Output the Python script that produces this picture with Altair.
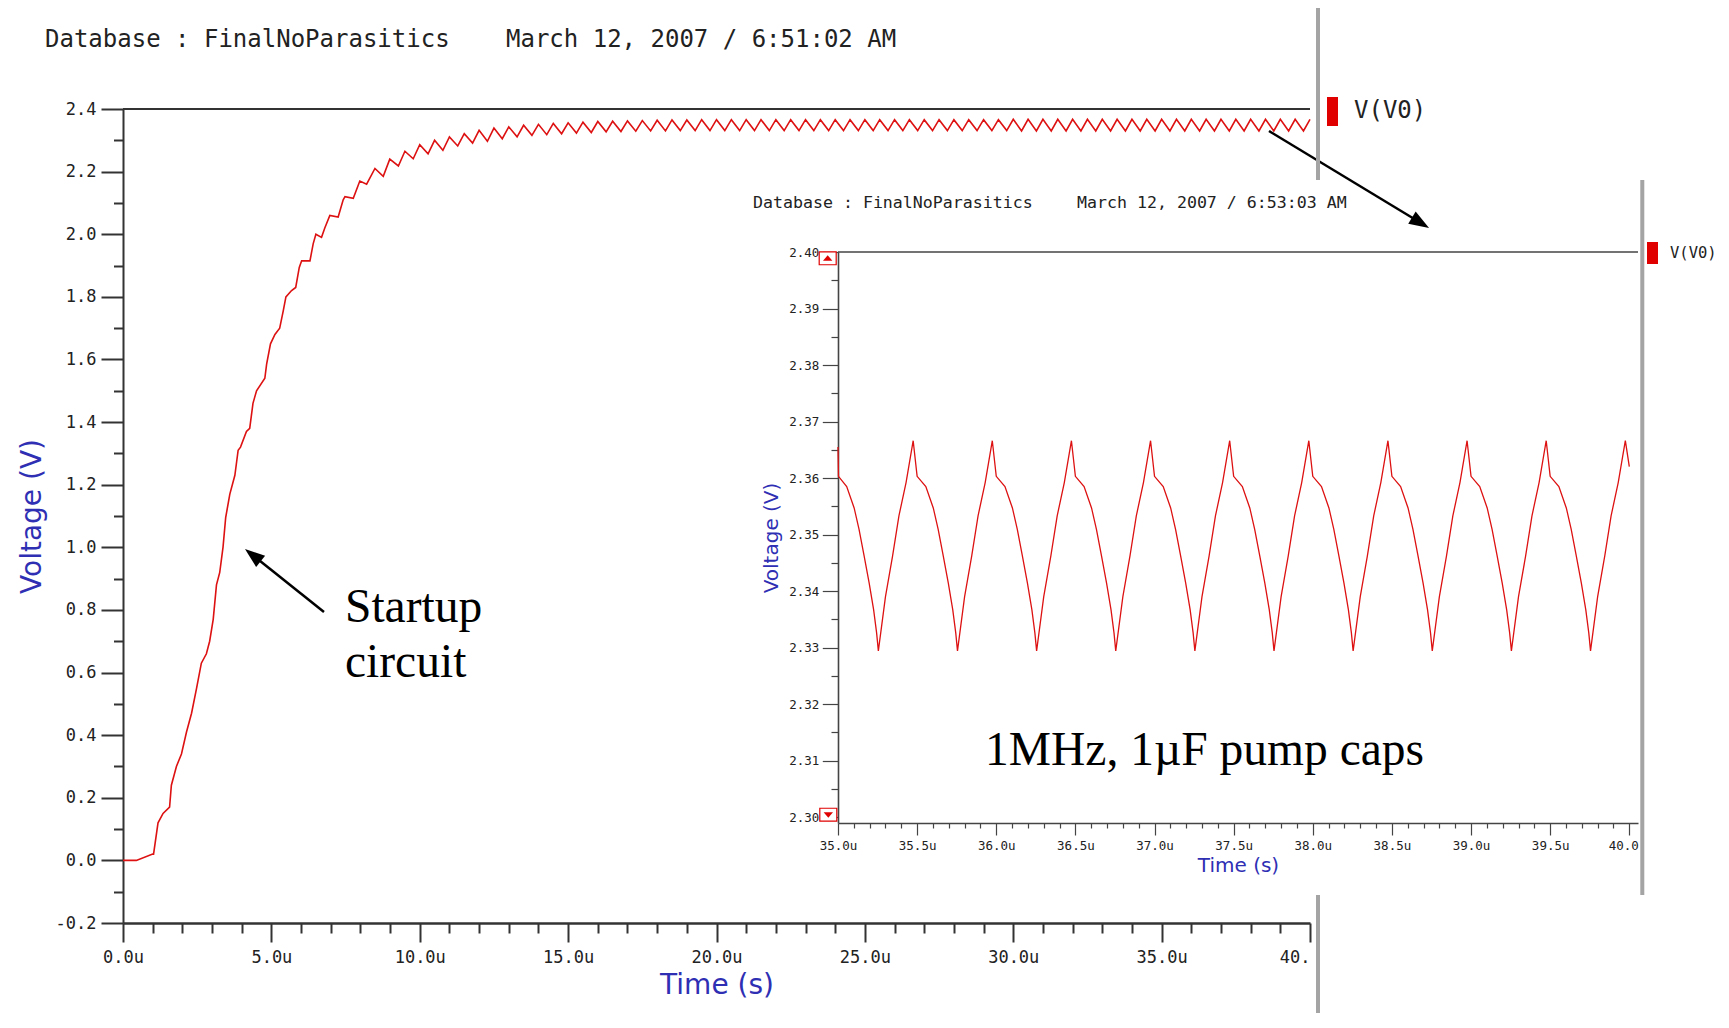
import altair as alt
import pandas as pd

# ---------------- data ----------------
# main transient V(V0), time in microseconds
main_t = [
    0.0, 0.45, 1.0, 1.03, 1.18, 1.35, 1.57, 1.63, 1.8, 1.97,
    2.14, 2.31, 2.48, 2.64, 2.81, 2.92, 3.04, 3.15, 3.26, 3.37,
    3.46, 3.6, 3.77, 3.88, 3.96, 4.16, 4.27, 4.38, 4.5, 4.78,
    4.84, 4.97, 5.12, 5.28, 5.4, 5.49, 5.68, 5.82, 5.94, 6.02,
    6.3, 6.41, 6.5, 6.69, 6.8, 6.97, 7.25, 7.42, 7.48, 7.76,
    7.98, 8.21, 8.49, 8.77, 8.99, 9.28,
    9.5, 9.78, 10.0, 10.28, 10.5, 10.78, 11.0, 11.28, 11.5, 11.78,
    12.0, 12.28, 12.5, 12.78, 13.0, 13.28, 13.5, 13.78, 14.0, 14.28,
    14.5, 14.78, 15.0, 15.28, 15.5, 15.78, 16.0, 16.28, 16.5, 16.78,
    17.0, 17.28, 17.5, 17.78, 18.0, 18.28, 18.5, 18.78, 19.0, 19.28,
    19.5, 19.78,
    20.0, 20.28, 20.5, 20.78, 21.0, 21.28, 21.5, 21.78, 22.0, 22.28,
    22.5, 22.78, 23.0, 23.28, 23.5, 23.78, 24.0, 24.28, 24.5, 24.78,
    25.0, 25.28, 25.5, 25.78, 26.0, 26.28, 26.5, 26.78, 27.0, 27.28,
    27.5, 27.78, 28.0, 28.28, 28.5, 28.78, 29.0, 29.28, 29.5, 29.78,
    30.0, 30.28, 30.5, 30.78, 31.0, 31.28, 31.5, 31.78, 32.0, 32.28,
    32.5, 32.78, 33.0, 33.28, 33.5, 33.78, 34.0, 34.28, 34.5, 34.78,
    35.0, 35.28, 35.5, 35.78, 36.0, 36.28, 36.5, 36.78, 37.0, 37.28,
    37.5, 37.78, 38.0, 38.28, 38.5, 38.78, 39.0, 39.28, 39.5, 39.78,
    40.0,
]
main_v = [
    0.0, 0.0, 0.02, 0.02, 0.12, 0.15, 0.17, 0.24, 0.30, 0.34,
    0.41, 0.47, 0.55, 0.63, 0.66, 0.70, 0.77, 0.88, 0.92, 1.00,
    1.095, 1.17, 1.23, 1.31, 1.32, 1.37, 1.38, 1.46, 1.50, 1.54,
    1.585, 1.65, 1.68, 1.70, 1.755, 1.80, 1.82, 1.83, 1.894, 1.915,
    1.915, 1.97, 2.0, 1.99, 2.02, 2.06, 2.055, 2.11, 2.12, 2.115,
    2.17, 2.16, 2.21, 2.185, 2.24, 2.218,
    2.265, 2.241, 2.286, 2.257, 2.300, 2.268, 2.311, 2.282, 2.321, 2.291,
    2.332, 2.297, 2.339, 2.305, 2.343, 2.311, 2.348, 2.316, 2.351, 2.318,
    2.354, 2.321, 2.356, 2.323, 2.358, 2.325, 2.360, 2.327, 2.361, 2.328,
    2.362, 2.329, 2.363, 2.330, 2.364, 2.330, 2.365, 2.331, 2.365, 2.331,
    2.366, 2.331,
    2.366, 2.331, 2.366, 2.331, 2.366, 2.331, 2.366, 2.331, 2.366, 2.331,
    2.366, 2.331, 2.366, 2.331, 2.366, 2.331, 2.366, 2.331, 2.366, 2.331,
    2.366, 2.331, 2.366, 2.331, 2.366, 2.331, 2.366, 2.331, 2.366, 2.331,
    2.366, 2.331, 2.366, 2.331, 2.366, 2.331, 2.366, 2.331, 2.366, 2.331,
    2.367, 2.330, 2.367, 2.330, 2.367, 2.330, 2.367, 2.330, 2.367, 2.330,
    2.367, 2.330, 2.367, 2.330, 2.367, 2.330, 2.367, 2.330, 2.367, 2.330,
    2.367, 2.330, 2.367, 2.330, 2.367, 2.330, 2.367, 2.330, 2.367, 2.330,
    2.367, 2.330, 2.367, 2.330, 2.367, 2.330, 2.367, 2.330, 2.367, 2.330,
    2.367,
]

# inset: zoom on 35u..40u
inset_t = [
    35.0, 35.003, 35.055, 35.102, 35.133, 35.165, 35.197, 35.225, 35.244, 35.255, 35.3, 35.345, 35.385, 35.43,
    35.475, 35.5, 35.555, 35.602, 35.633, 35.665, 35.697, 35.725, 35.744, 35.755, 35.8, 35.845, 35.885, 35.93,
    35.975, 36.0, 36.055, 36.102, 36.133, 36.165, 36.197, 36.225, 36.244, 36.255, 36.3, 36.345, 36.385, 36.43,
    36.475, 36.5, 36.555, 36.602, 36.633, 36.665, 36.697, 36.725, 36.744, 36.755, 36.8, 36.845, 36.885, 36.93,
    36.975, 37.0, 37.055, 37.102, 37.133, 37.165, 37.197, 37.225, 37.244, 37.255, 37.3, 37.345, 37.385, 37.43,
    37.475, 37.5, 37.555, 37.602, 37.633, 37.665, 37.697, 37.725, 37.744, 37.755, 37.8, 37.845, 37.885, 37.93,
    37.975, 38.0, 38.055, 38.102, 38.133, 38.165, 38.197, 38.225, 38.244, 38.255, 38.3, 38.345, 38.385, 38.43,
    38.475, 38.5, 38.555, 38.602, 38.633, 38.665, 38.697, 38.725, 38.744, 38.755, 38.8, 38.845, 38.885, 38.93,
    38.975, 39.0, 39.055, 39.102, 39.133, 39.165, 39.197, 39.225, 39.244, 39.255, 39.3, 39.345, 39.385, 39.43,
    39.475, 39.5, 39.555, 39.602, 39.633, 39.665, 39.697, 39.725, 39.744, 39.755, 39.8, 39.845, 39.885, 39.93,
    39.975, 40.0,
]
inset_v = [
    2.3655, 2.3603, 2.3585, 2.3547, 2.3509, 2.3462, 2.3414, 2.3367, 2.3326, 2.3294, 2.3390, 2.3462, 2.3533, 2.3592,
    2.3666, 2.3603, 2.3585, 2.3547, 2.3509, 2.3462, 2.3414, 2.3367, 2.3326, 2.3294, 2.3390, 2.3462, 2.3533, 2.3592,
    2.3666, 2.3603, 2.3585, 2.3547, 2.3509, 2.3462, 2.3414, 2.3367, 2.3326, 2.3294, 2.3390, 2.3462, 2.3533, 2.3592,
    2.3666, 2.3603, 2.3585, 2.3547, 2.3509, 2.3462, 2.3414, 2.3367, 2.3326, 2.3294, 2.3390, 2.3462, 2.3533, 2.3592,
    2.3666, 2.3603, 2.3585, 2.3547, 2.3509, 2.3462, 2.3414, 2.3367, 2.3326, 2.3294, 2.3390, 2.3462, 2.3533, 2.3592,
    2.3666, 2.3603, 2.3585, 2.3547, 2.3509, 2.3462, 2.3414, 2.3367, 2.3326, 2.3294, 2.3390, 2.3462, 2.3533, 2.3592,
    2.3666, 2.3603, 2.3585, 2.3547, 2.3509, 2.3462, 2.3414, 2.3367, 2.3326, 2.3294, 2.3390, 2.3462, 2.3533, 2.3592,
    2.3666, 2.3603, 2.3585, 2.3547, 2.3509, 2.3462, 2.3414, 2.3367, 2.3326, 2.3294, 2.3390, 2.3462, 2.3533, 2.3592,
    2.3666, 2.3603, 2.3585, 2.3547, 2.3509, 2.3462, 2.3414, 2.3367, 2.3326, 2.3294, 2.3390, 2.3462, 2.3533, 2.3592,
    2.3666, 2.3603, 2.3585, 2.3547, 2.3509, 2.3462, 2.3414, 2.3367, 2.3326, 2.3294, 2.3390, 2.3462, 2.3533, 2.3592,
    2.3666, 2.3620,
]

# tick values
main_x_ticks = [float(i) for i in range(0, 41)]
main_y_ticks = [round(-0.2 + 0.1 * i, 1) for i in range(27)]
inset_x_ticks = [round(35.0 + 0.1 * i, 1) for i in range(51)]
inset_y_ticks = [round(2.30 + 0.005 * i, 3) for i in range(21)]

# texts
header_db = ["Database : FinalNoParasitics"]
header_main_date = ["March 12, 2007 / 6:51:02 AM"]
header_inset_date = ["March 12, 2007 / 6:53:03 AM"]
legend_label = ["V(V0)"]
axis_x_title = "Time (s)"
axis_y_title = "Voltage (V)"

# annotations (chart coordinates)
startup_label = ["Startup", "circuit"]
startup_t = [7.481, 7.481]
startup_v = [0.7624, 0.5867]
pump_label = ["1MHz, 1\u00b5F pump caps"]
pump_t = [35.929]
pump_v = [2.3092]
arrow_tail_t = [6.773, 38.618]
arrow_tail_v = [0.7934, 2.3297]
arrow_neck_t = [4.374, 43.724]
arrow_neck_v = [0.9748, 2.0365]
arrow_angle = [308.6, 121.2]

# ---------------- styling ----------------
RED = "#dd1111"
BLUE = "#2f2fb4"
INK = "#222222"
MONO = "DejaVu Sans Mono"
SANS = "DejaVu Sans"
SERIF = "Liberation Serif"
GRAY = "#a4a4a4"

df_main = pd.DataFrame({"t": main_t, "v": main_v})
df_inset = pd.DataFrame({"t": inset_t, "v": inset_v})

xs_main = alt.Scale(domain=[0, 40], nice=False, zero=False)
ys_main = alt.Scale(domain=[-0.2, 2.4], nice=False, zero=False)
xs_in = alt.Scale(domain=[35.0, 40.055], range=[715, 1515], nice=False, zero=False)
ys_in = alt.Scale(domain=[2.29894, 2.40], range=[714, 143], nice=False, zero=False)

ax_main_x = alt.Axis(
    orient="bottom", values=main_x_ticks, grid=False,
    tickSize={"condition": {"test": "datum.value % 5 == 0", "value": 19}, "value": 10},
    tickWidth=2, tickColor="#333333", domainColor="#333333", domainWidth=2.5,
    labelExpr="datum.value % 5 != 0 ? '' : (datum.value == 40 ? '40.' : format(datum.value, '.1f') + 'u')",
    labelAlign={"condition": {"test": "datum.value == 40", "value": "right"}, "value": "center"},
    labelFlush=False, labelOverlap=False, labelFont=MONO, labelFontSize=17,
    labelColor=INK, labelPadding=7,
    title=axis_x_title, titleFont=SANS, titleFontSize=28, titleFontWeight="normal",
    titleColor=BLUE, titlePadding=6,
)
ax_main_y = alt.Axis(
    orient="left", values=main_y_ticks, grid=False,
    tickSize={"condition": {"test": "abs(datum.value * 5 - round(datum.value * 5)) < 0.001", "value": 22}, "value": 9.5},
    tickWidth=2, tickColor="#333333", domainColor="#333333", domainWidth=2,
    labelExpr="abs(datum.value * 5 - round(datum.value * 5)) < 0.001 ? replace(format(datum.value, '.1f'), '\u2212', '-') : ''",
    labelFlush=False, labelOverlap=False, labelFont=MONO, labelFontSize=17,
    labelColor=INK, labelPadding=5,
    title=axis_y_title, titleFont=SANS, titleFontSize=28, titleFontWeight="normal",
    titleColor=BLUE, titlePadding=9,
)
ax_in_x = alt.Axis(
    orient="bottom", offset=-100, values=inset_x_ticks, grid=False,
    tickSize={"condition": {"test": "abs(datum.value * 2 - round(datum.value * 2)) < 0.001", "value": 12}, "value": 5},
    tickWidth=1.2, tickColor="#444444", domainColor="#444444", domainWidth=1.6,
    labelExpr="abs(datum.value * 2 - round(datum.value * 2)) < 0.001 ? (datum.value > 39.99 ? '40.0' : format(datum.value, '.1f') + 'u') : ''",
    labelAlign={"condition": {"test": "datum.value > 39.99", "value": "right"}, "value": "center"},
    labelOffset={"condition": {"test": "datum.value > 39.99", "value": 9}, "value": 0},
    labelFlush=False, labelOverlap=False, labelFont=MONO, labelFontSize=12.5,
    labelColor=INK, labelPadding=4,
    title=axis_x_title, titleFont=SANS, titleFontSize=20, titleFontWeight="normal",
    titleColor=BLUE, titlePadding=4,
)
ax_in_y = alt.Axis(
    orient="left", offset=-715, values=inset_y_ticks, grid=False,
    tickSize={"condition": {"test": "abs(datum.value * 100 - round(datum.value * 100)) < 0.001", "value": 15.7}, "value": 7},
    tickWidth=1.2, tickColor="#444444", domainColor="#444444", domainWidth=1.6,
    labelExpr="abs(datum.value * 100 - round(datum.value * 100)) < 0.001 ? format(datum.value, '.2f') : ''",
    labelFlush=False, labelOverlap=False, labelFont=MONO, labelFontSize=12.5,
    labelColor=INK, labelPadding=3.5,
    title=axis_y_title, titleFont=SANS, titleFontSize=20, titleFontWeight="normal",
    titleColor=BLUE, titlePadding=7,
)


def mx(field):
    return alt.X(field, scale=xs_main, axis=ax_main_x)


def my(field):
    return alt.Y(field, scale=ys_main, axis=ax_main_y)


def ix(field):
    return alt.X(field, scale=xs_in, axis=ax_in_x)


def iy(field):
    return alt.Y(field, scale=ys_in, axis=ax_in_y)


def label_text(labels, px, py, size):
    return alt.Chart(pd.DataFrame({"label": labels})).mark_text(
        font=MONO, fontSize=size, align="left", baseline="middle", color=INK
    ).encode(x=alt.value(px), y=alt.value(py), text="label:N")


# ---------------- main chart ----------------
main_line = alt.Chart(df_main).mark_line(color=RED, strokeWidth=1.6).encode(
    x=mx("t:Q"), y=my("v:Q"),
)
main_top = alt.Chart(pd.DataFrame({"x0": [0.0], "x1": [40.0], "y0": [2.4]})).mark_rule(
    color="#333333", strokeWidth=2
).encode(x=mx("x0:Q"), x2="x1:Q", y=my("y0:Q"))
df_arrow = pd.DataFrame({"t0": arrow_tail_t, "v0": arrow_tail_v,
                         "t1": arrow_neck_t, "v1": arrow_neck_v, "ang": arrow_angle})
arrow_lines = alt.Chart(df_arrow).mark_rule(color="black", strokeWidth=2.5).encode(
    x=mx("t0:Q"), y=my("v0:Q"), x2="t1:Q", y2="v1:Q",
)
arrow_heads = alt.Chart(df_arrow).mark_point(
    shape="M0,-1L0.72,1L-0.72,1Z", size=400, filled=True, color="black", opacity=1
).encode(x=mx("t1:Q"), y=my("v1:Q"), angle=alt.Angle("ang:Q", scale=None))
startup_text = alt.Chart(pd.DataFrame({"t": startup_t, "v": startup_v, "label": startup_label})).mark_text(
    font=SERIF, fontSize=47.5, align="left", baseline="alphabetic", color="black"
).encode(x=mx("t:Q"), y=my("v:Q"), text="label:N")
main_header_a = label_text(header_db, -78, -69, 24)
main_header_b = label_text(header_main_date, 383, -69, 24)
main_legend_box = alt.Chart(pd.DataFrame({"label": legend_label})).mark_rect(color="#e00000").encode(
    x=alt.value(1204), x2=alt.value(1215), y=alt.value(-12), y2=alt.value(17)
)
main_legend_text = label_text(legend_label, 1231, 2, 24)
frame_df = pd.DataFrame({"t": [40.0]})
main_frame_top = alt.Chart(frame_df).mark_rule(color=GRAY, strokeWidth=4, xOffset=8).encode(
    x=mx("t:Q"), y=alt.value(-102), y2=alt.value(71)
)
main_frame_bot = alt.Chart(frame_df).mark_rule(color=GRAY, strokeWidth=4, xOffset=8).encode(
    x=mx("t:Q"), y=alt.value(786), y2=alt.value(904)
)

main_group = alt.layer(
    main_top, main_line, arrow_lines, arrow_heads, startup_text, main_header_a, main_header_b,
    main_legend_box, main_legend_text, main_frame_top, main_frame_bot,
)

# ---------------- inset ----------------
inset_line = alt.Chart(df_inset).mark_line(color=RED, strokeWidth=1.3).encode(
    x=ix("t:Q"), y=iy("v:Q"),
)
inset_top = alt.Chart(pd.DataFrame({"x0": [35.0], "x1": [40.055], "y0": [2.40]})).mark_rule(
    color="#444444", strokeWidth=1.6
).encode(x=ix("x0:Q"), x2="x1:Q", y=iy("y0:Q"))
pump_text = alt.Chart(pd.DataFrame({"t": pump_t, "v": pump_v, "label": pump_label})).mark_text(
    font=SERIF, fontSize=47.5, align="left", baseline="alphabetic", color="black"
).encode(x=ix("t:Q"), y=iy("v:Q"), text="label:N")
top_mark_df = pd.DataFrame({"t": [35.0], "v": [2.40]})
bot_mark_df = pd.DataFrame({"t": [35.0], "v": [2.30]})
box_shape = "M-1,-0.76H1V0.76H-1Z"
top_box = alt.Chart(top_mark_df).mark_point(
    shape=box_shape, size=289, filled=True, fill="white", stroke="#e00000", strokeWidth=1.2,
    opacity=1, xOffset=-10.3, yOffset=6.3
).encode(x=ix("t:Q"), y=iy("v:Q"))
top_tri = alt.Chart(top_mark_df).mark_point(
    shape="M0,-0.6L1,0.6L-1,0.6Z", size=88, filled=True, color="#e00000", opacity=1,
    xOffset=-10.3, yOffset=6.0
).encode(x=ix("t:Q"), y=iy("v:Q"))
bot_box = alt.Chart(bot_mark_df).mark_point(
    shape=box_shape, size=289, filled=True, fill="white", stroke="#e00000", strokeWidth=1.2,
    opacity=1, xOffset=-9.7, yOffset=-2.3
).encode(x=ix("t:Q"), y=iy("v:Q"))
bot_tri = alt.Chart(bot_mark_df).mark_point(
    shape="M0,0.6L1,-0.6L-1,-0.6Z", size=88, filled=True, color="#e00000", opacity=1,
    xOffset=-9.7, yOffset=-2.0
).encode(x=ix("t:Q"), y=iy("v:Q"))
inset_header_a = label_text(header_db, 630, 94, 16.6)
inset_header_b = label_text(header_inset_date, 954, 94, 16.6)
inset_legend_box = alt.Chart(pd.DataFrame({"label": legend_label})).mark_rect(color="#e00000").encode(
    x=alt.value(1524), x2=alt.value(1535), y=alt.value(133), y2=alt.value(155)
)
inset_legend_text = label_text(legend_label, 1547, 144, 15.5)
inset_frame = alt.Chart(frame_df).mark_rule(color=GRAY, strokeWidth=4, xOffset=13).encode(
    x=ix("t:Q"), y=alt.value(71), y2=alt.value(786)
)

inset_group = alt.layer(
    inset_top, inset_line, pump_text, top_box, top_tri, bot_box, bot_tri,
    inset_header_a, inset_header_b, inset_legend_box, inset_legend_text, inset_frame,
)

chart = (
    alt.layer(main_group, inset_group)
    .resolve_scale(x="independent", y="independent")
    .properties(
        width=1187, height=814,
        padding={"left": 115, "top": 101, "right": 408, "bottom": 90},
        autosize=alt.AutoSizeParams(type="none"),
        background="white",
    )
    .configure_view(stroke=None)
)

chart.save("out.html", embed_options={"renderer": "svg", "actions": False})
